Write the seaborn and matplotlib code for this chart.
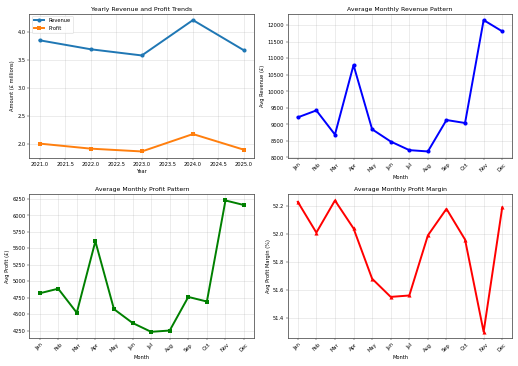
import matplotlib
matplotlib.use("Agg")
import matplotlib.pyplot as plt
import seaborn as sns
import pandas as pd

years = [2021, 2022, 2023, 2024, 2025]
yearly_revenue = [3.85, 3.69, 3.58, 4.21, 3.67]
yearly_profit = [2.01, 1.92, 1.87, 2.18, 1.90]

months = ["Jan", "Feb", "Mar", "Apr", "May", "Jun",
          "Jul", "Aug", "Sep", "Oct", "Nov", "Dec"]
avg_revenue = [9210, 9420, 8690, 10790, 8850, 8480,
               8220, 8180, 9130, 9040, 12150, 11810]
avg_profit = [4815, 4885, 4520, 5605, 4575, 4365,
              4230, 4250, 4760, 4690, 6225, 6155]
avg_margin = [52.23, 52.01, 52.24, 52.04, 51.68, 51.55,
              51.56, 51.99, 52.18, 51.96, 51.30, 52.19]

yearly = pd.DataFrame({"Year": years, "Revenue": yearly_revenue, "Profit": yearly_profit})
monthly = pd.DataFrame({"Month": months, "Revenue": avg_revenue,
                        "Profit": avg_profit, "Margin": avg_margin})

plt.rcParams["axes.linewidth"] = 1.6
plt.rcParams["axes.edgecolor"] = "#555555"

LW = 3.8
MS = 8

fig, axes = plt.subplots(2, 2, figsize=(14, 9.9))

# yearly trends
ax = axes[0, 0]
sns.lineplot(data=yearly, x="Year", y="Revenue", marker="o", linewidth=LW,
             markersize=MS, markeredgewidth=0, label="Revenue", ax=ax)
sns.lineplot(data=yearly, x="Year", y="Profit", marker="s", linewidth=LW,
             markersize=MS, markeredgewidth=0, label="Profit", ax=ax)
ax.set_title("Yearly Revenue and Profit Trends")
ax.set_xlabel("Year")
ax.set_ylabel("Amount (£ millions)")
ax.legend(loc="upper left")
ax.grid(True, alpha=0.3, linewidth=1.5)

# monthly panels
panels = [
    (axes[0, 1], "Revenue", "blue", "o", "Average Monthly Revenue Pattern", "Avg Revenue (£)"),
    (axes[1, 0], "Profit", "green", "s", "Average Monthly Profit Pattern", "Avg Profit (£)"),
    (axes[1, 1], "Margin", "red", "^", "Average Monthly Profit Margin", "Avg Profit Margin (%)"),
]
for ax, col, color, mk, title, ylab in panels:
    sns.lineplot(data=monthly, x="Month", y=col, color=color, marker=mk,
                 linewidth=LW, markersize=MS, markeredgewidth=0, sort=False, ax=ax)
    ax.set_title(title)
    ax.set_xlabel("Month")
    ax.set_ylabel(ylab)
    ax.tick_params(axis="x", rotation=45)
    ax.grid(True, alpha=0.3, linewidth=1.5)

plt.tight_layout()
fig.savefig("out.png", dpi=37)
